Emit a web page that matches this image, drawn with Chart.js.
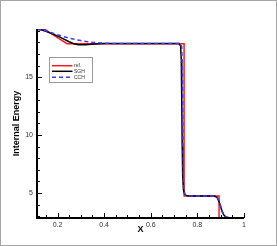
<!DOCTYPE html>
<html>
<head>
<meta charset="utf-8">
<script src="https://cdn.jsdelivr.net/npm/chart.js@4.4.1/dist/chart.umd.min.js"></script>
<style>
  html, body { margin: 0; padding: 0; background: #fff; }
  canvas { display: block; }
</style>
</head>
<body>
<canvas id="chart" width="277" height="246"></canvas>
<script>
// exact solution
const refX = [0.112, 0.147, 0.17, 0.2, 0.22, 0.241, 0.743, 0.743, 0.893, 0.893, 1.0];
const refY = [19.1, 19.1, 18.79, 18.4, 18.15, 17.88, 17.88, 4.74, 4.74, 2.85, 2.85];

// SGH
const sghX = [0.112, 0.13, 0.15, 0.175, 0.2, 0.225, 0.25, 0.27, 0.29, 0.32, 0.36, 0.4, 0.5, 0.6, 0.7, 0.72,
              0.728, 0.731, 0.733, 0.735, 0.737, 0.74, 0.745, 0.752, 0.765, 0.8, 0.85, 0.875, 0.885, 0.893,
              0.9, 0.907, 0.915, 0.925, 0.935, 0.95, 1.0];
const sghY = [19.1, 19.08, 18.95, 18.75, 18.55, 18.3, 18.05, 17.88, 17.8, 17.8, 17.85, 17.9, 17.9, 17.9, 17.9, 17.9,
              17.7, 16.5, 13.0, 9.0, 6.5, 5.3, 4.9, 4.78, 4.74, 4.74, 4.74, 4.72, 4.6, 4.25,
              3.8, 3.35, 3.05, 2.9, 2.86, 2.85, 2.85];

// CCH
const cchX = [0.112, 0.13, 0.15, 0.175, 0.2, 0.225, 0.25, 0.275, 0.3, 0.33, 0.36, 0.4, 0.45, 0.5, 0.6, 0.7, 0.728,
              0.733, 0.736, 0.738, 0.74, 0.743, 0.748, 0.755, 0.77, 0.8, 0.85, 0.875, 0.885, 0.893,
              0.9, 0.907, 0.915, 0.925, 0.935, 0.95, 1.0];
const cchY = [19.15, 19.1, 19.0, 18.82, 18.65, 18.5, 18.36, 18.25, 18.15, 18.05, 17.98, 17.93, 17.9, 17.9, 17.9, 17.9, 17.9,
              17.6, 15.0, 10.0, 6.5, 5.2, 4.85, 4.76, 4.74, 4.74, 4.74, 4.72, 4.62, 4.3,
              3.85, 3.4, 3.08, 2.92, 2.87, 2.85, 2.85];

const xMajorTicks = [0.2, 0.4, 0.6, 0.8, 1];
const xMinorTicks = [0.15, 0.25, 0.3, 0.35, 0.45, 0.5, 0.55, 0.65, 0.7, 0.75, 0.85, 0.9, 0.95];
const yMajorTicks = [5, 10, 15];
const yMinorTicks = [3, 4, 6, 7, 8, 9, 11, 12, 13, 14, 16, 17, 18, 19];

const FONT = '"Liberation Sans", Arial, sans-serif';

const pts = (xs, ys) => xs.map((x, i) => ({ x, y: ys[i] }));

const axesPlugin = {
    id: 'axesPlugin',
    beforeDraw(chart) {
        const ctx = chart.ctx;
        ctx.save();
        ctx.fillStyle = '#fff';
        ctx.fillRect(0, 0, chart.width, chart.height);
        ctx.restore();
    },
    afterDatasetsDraw(chart) {
        const { ctx, chartArea: a, scales: { x, y } } = chart;
        ctx.save();
        ctx.strokeStyle = '#000';
        ctx.lineWidth = 1;
        const xTick = (v, len) => {
            const px = Math.round(x.getPixelForValue(v)) + 0.5;
            ctx.beginPath(); ctx.moveTo(px, a.bottom); ctx.lineTo(px, a.bottom - len); ctx.stroke();
        };
        const yTick = (v, len) => {
            const py = Math.round(y.getPixelForValue(v)) + 0.5;
            ctx.beginPath(); ctx.moveTo(a.left, py); ctx.lineTo(a.left + len, py); ctx.stroke();
        };
        xMinorTicks.forEach(v => xTick(v, 3));
        xMajorTicks.forEach(v => xTick(v, 5));
        yMinorTicks.forEach(v => yTick(v, 3));
        yMajorTicks.forEach(v => yTick(v, 5));

        // axis lines
        ctx.lineWidth = 2;
        ctx.beginPath();
        ctx.moveTo(a.left, a.top);
        ctx.lineTo(a.left, a.bottom);
        ctx.lineTo(a.right, a.bottom);
        ctx.stroke();

        // legend
        const lx = 49.5, ly = 57.5, lw = 43, lh = 25;
        ctx.lineWidth = 1;
        ctx.strokeStyle = '#999';
        ctx.strokeRect(lx, ly, lw, lh);
        const rows = [65.7, 71.3, 77.2];
        ctx.font = '5px ' + FONT;
        ctx.textBaseline = 'middle';
        ctx.fillStyle = '#333';
        chart.data.datasets.forEach((ds, i) => {
            ctx.strokeStyle = ds.borderColor;
            ctx.lineWidth = ds.borderWidth;
            ctx.setLineDash(ds.borderDash || []);
            ctx.beginPath();
            ctx.moveTo(52, rows[i]);
            ctx.lineTo(72.5, rows[i]);
            ctx.stroke();
            ctx.setLineDash([]);
            ctx.fillText(ds.label, 74, rows[i]);
        });

        // outer frame
        ctx.strokeStyle = '#a6a6a6';
        ctx.lineWidth = 1;
        ctx.strokeRect(0.5, 0.5, chart.width - 1, chart.height - 1);
        ctx.restore();
    }
};

new Chart(document.getElementById('chart'), {
    type: 'line',
    data: {
        datasets: [
            { label: 'ref.', data: pts(refX, refY), borderColor: '#ff1a1a', borderWidth: 1.5, order: 3 },
            { label: 'SGH', data: pts(sghX, sghY), borderColor: '#000000', borderWidth: 1.5, order: 2 },
            { label: 'CCH', data: pts(cchX, cchY), borderColor: '#3d3dff', borderWidth: 1.5, borderDash: [4, 3], order: 1 }
        ]
    },
    options: {
        responsive: false,
        animation: false,
        layout: { padding: { top: 29, right: 33, left: 0, bottom: 0 } },
        elements: { point: { radius: 0 }, line: { tension: 0 } },
        scales: {
            x: {
                type: 'linear',
                min: 0.112,
                max: 1,
                grid: { display: false, drawTicks: false },
                border: { display: false },
                ticks: {
                    font: { family: FONT, size: 7 },
                    color: '#333',
                    padding: 3,
                    maxRotation: 0,
                    callback: v => String(v)
                },
                afterBuildTicks: s => { s.ticks = xMajorTicks.map(v => ({ value: v })); },
                afterFit: s => { s.height = 28; },
                title: {
                    display: true,
                    text: 'X',
                    color: '#000',
                    font: { family: FONT, size: 9, weight: 'bold' },
                    padding: { top: 0, bottom: 10.6 }
                }
            },
            y: {
                min: 2.84,
                max: 19.15,
                grid: { display: false, drawTicks: false },
                border: { display: false },
                ticks: {
                    font: { family: FONT, size: 7 },
                    color: '#333',
                    padding: 4,
                    callback: v => String(v)
                },
                afterBuildTicks: s => { s.ticks = yMajorTicks.map(v => ({ value: v })); },
                afterFit: s => { s.width = 37; },
                title: {
                    display: true,
                    text: 'Internal Energy',
                    color: '#000',
                    font: { family: FONT, size: 9, weight: 'bold' },
                    padding: { top: 11.6, bottom: 0 }
                }
            }
        },
        plugins: {
            legend: { display: false },
            tooltip: { enabled: false }
        }
    },
    plugins: [axesPlugin]
});
</script>
</body>
</html>
